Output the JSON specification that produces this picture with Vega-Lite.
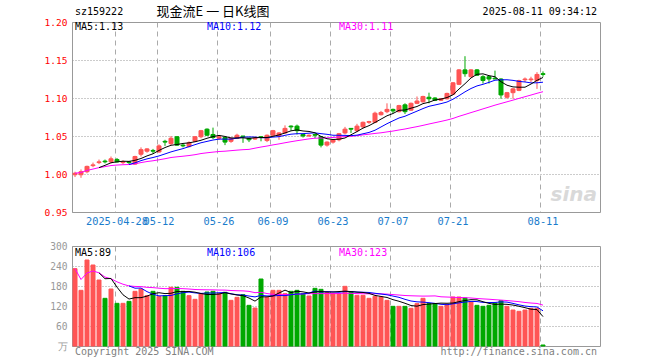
{
  "$schema": "https://vega.github.io/schema/vega-lite/v6.json",
  "background": "white",
  "padding": {"left": 43, "top": 5, "right": 62, "bottom": 0},
  "spacing": 13,
  "datasets": {
    "k": [
      {"d":"2025-04-17","o":0.999,"h":1.003,"l":0.996,"c":1.001,"v":232,"m30":1.001,"vm30":232},
      {"d":"2025-04-18","o":0.999,"h":1.006,"l":0.995,"c":1.003,"v":167,"m30":1.002,"vm30":199.5},
      {"d":"2025-04-21","o":1.003,"h":1.011,"l":1.001,"c":1.010,"v":258,"m30":1.0047,"vm30":219},
      {"d":"2025-04-22","o":1.011,"h":1.015,"l":1.009,"c":1.012,"v":243,"m30":1.0065,"vm30":225},
      {"d":"2025-04-23","o":1.015,"h":1.019,"l":1.013,"c":1.016,"v":198,"m5":1.0084,"m30":1.0084,"vm5":219.6,"vm30":219.6},
      {"d":"2025-04-24","o":1.017,"h":1.019,"l":1.014,"c":1.016,"v":143,"m5":1.0114,"m30":1.0097,"vm5":201.8,"vm30":206.8},
      {"d":"2025-04-25","o":1.016,"h":1.023,"l":1.014,"c":1.020,"v":171,"m5":1.0148,"m30":1.0111,"vm5":202.6,"vm30":201.7},
      {"d":"2025-04-28","o":1.019,"h":1.021,"l":1.015,"c":1.016,"v":128,"m5":1.016,"m30":1.0118,"vm5":176.6,"vm30":192.5},
      {"d":"2025-04-29","o":1.015,"h":1.018,"l":1.013,"c":1.016,"v":128,"m5":1.0168,"m30":1.0122,"vm5":153.6,"vm30":185.3},
      {"d":"2025-04-30","o":1.016,"h":1.017,"l":1.013,"c":1.015,"v":134,"m5":1.0166,"m10":1.0125,"m30":1.0125,"vm5":140.8,"vm10":180.2,"vm30":180.2},
      {"d":"2025-05-06","o":1.013,"h":1.024,"l":1.012,"c":1.023,"v":164,"m5":1.018,"m10":1.0147,"m30":1.0135,"vm5":145,"vm10":173.4,"vm30":178.7},
      {"d":"2025-05-07","o":1.026,"h":1.035,"l":1.023,"c":1.032,"v":171,"m5":1.0204,"m10":1.0176,"m30":1.015,"vm5":145,"vm10":173.8,"vm30":178.1},
      {"d":"2025-05-08","o":1.030,"h":1.034,"l":1.028,"c":1.033,"v":151,"m5":1.0238,"m10":1.0199,"m30":1.0164,"vm5":149.6,"vm10":163.1,"vm30":176},
      {"d":"2025-05-09","o":1.031,"h":1.033,"l":1.027,"c":1.030,"v":164,"m5":1.0266,"m10":1.0217,"m30":1.0174,"vm5":156.8,"vm10":155.2,"vm30":175.1},
      {"d":"2025-05-12","o":1.029,"h":1.039,"l":1.028,"c":1.037,"v":149,"m5":1.031,"m10":1.0238,"m30":1.0187,"vm5":159.8,"vm10":150.3,"vm30":173.4},
      {"d":"2025-05-13","o":1.043,"h":1.045,"l":1.037,"c":1.042,"v":151,"m5":1.0348,"m10":1.0264,"m30":1.0201,"vm5":157.2,"vm10":151.1,"vm30":172},
      {"d":"2025-05-14","o":1.040,"h":1.050,"l":1.038,"c":1.047,"v":176,"m5":1.0378,"m10":1.0291,"m30":1.0217,"vm5":158.2,"vm10":151.6,"vm30":172.2},
      {"d":"2025-05-15","o":1.049,"h":1.050,"l":1.037,"c":1.038,"v":176,"m5":1.0388,"m10":1.0313,"m30":1.0226,"vm5":163.2,"vm10":156.4,"vm30":172.4},
      {"d":"2025-05-16","o":1.038,"h":1.040,"l":1.035,"c":1.037,"v":164,"m5":1.0402,"m10":1.0334,"m30":1.0234,"vm5":163.2,"vm10":160,"vm30":172},
      {"d":"2025-05-19","o":1.036,"h":1.043,"l":1.035,"c":1.041,"v":151,"m5":1.041,"m10":1.036,"m30":1.0243,"vm5":163.6,"vm10":161.7,"vm30":171},
      {"d":"2025-05-20","o":1.043,"h":1.050,"l":1.042,"c":1.049,"v":140,"m5":1.0424,"m10":1.0386,"m30":1.0254,"vm5":161.4,"vm10":159.3,"vm30":169.5},
      {"d":"2025-05-21","o":1.049,"h":1.058,"l":1.047,"c":1.057,"v":156,"m5":1.0444,"m10":1.0411,"m30":1.0269,"vm5":157.4,"vm10":157.8,"vm30":168.9},
      {"d":"2025-05-22","o":1.059,"h":1.060,"l":1.050,"c":1.051,"v":162,"m5":1.047,"m10":1.0429,"m30":1.0279,"vm5":154.6,"vm10":158.9,"vm30":168.6},
      {"d":"2025-05-23","o":1.052,"h":1.061,"l":1.046,"c":1.048,"v":164,"m5":1.0492,"m10":1.0447,"m30":1.0288,"vm5":154.6,"vm10":158.9,"vm30":168.4},
      {"d":"2025-05-26","o":1.047,"h":1.051,"l":1.045,"c":1.049,"v":157,"m5":1.0508,"m10":1.0459,"m30":1.0296,"vm5":155.8,"vm10":159.7,"vm30":167.9},
      {"d":"2025-05-27","o":1.048,"h":1.049,"l":1.038,"c":1.042,"v":161,"m5":1.0494,"m10":1.0459,"m30":1.03,"vm5":160,"vm10":160.7,"vm30":167.7},
      {"d":"2025-05-28","o":1.043,"h":1.048,"l":1.041,"c":1.047,"v":137,"m5":1.0474,"m10":1.0459,"m30":1.0307,"vm5":156.2,"vm10":156.8,"vm30":166.5},
      {"d":"2025-05-29","o":1.047,"h":1.053,"l":1.046,"c":1.051,"v":146,"m5":1.0474,"m10":1.0472,"m30":1.0314,"vm5":153,"vm10":153.8,"vm30":165.8},
      {"d":"2025-05-30","o":1.050,"h":1.050,"l":1.041,"c":1.049,"v":154,"m5":1.0476,"m10":1.0484,"m30":1.032,"vm5":151,"vm10":152.8,"vm30":165.4},
      {"d":"2025-06-03","o":1.047,"h":1.048,"l":1.042,"c":1.045,"v":122,"m5":1.0468,"m10":1.0488,"m30":1.0324,"vm5":144,"vm10":149.9,"vm30":163.9},
      {"d":"2025-06-04","o":1.046,"h":1.049,"l":1.045,"c":1.047,"v":114,"m5":1.0478,"m10":1.0486,"m30":1.034,"vm5":134.6,"vm10":147.3,"vm30":160},
      {"d":"2025-06-05","o":1.049,"h":1.050,"l":1.043,"c":1.048,"v":201,"m5":1.048,"m10":1.0477,"m30":1.0355,"vm5":147.4,"vm10":151.8,"vm30":161.1},
      {"d":"2025-06-06","o":1.044,"h":1.052,"l":1.042,"c":1.051,"v":146,"m5":1.048,"m10":1.0477,"m30":1.0368,"vm5":147.4,"vm10":150.2,"vm30":157.4},
      {"d":"2025-06-09","o":1.051,"h":1.058,"l":1.050,"c":1.057,"v":167,"m5":1.0496,"m10":1.0486,"m30":1.0383,"vm5":150,"vm10":150.5,"vm30":154.9},
      {"d":"2025-06-10","o":1.050,"h":1.055,"l":1.045,"c":1.054,"v":167,"m5":1.0514,"m10":1.0491,"m30":1.0396,"vm5":159,"vm10":151.5,"vm30":153.8},
      {"d":"2025-06-11","o":1.054,"h":1.064,"l":1.053,"c":1.060,"v":157,"m5":1.054,"m10":1.0509,"m30":1.0411,"vm5":167.6,"vm10":151.1,"vm30":154.3},
      {"d":"2025-06-12","o":1.063,"h":1.064,"l":1.057,"c":1.062,"v":164,"m5":1.0568,"m10":1.0524,"m30":1.0425,"vm5":160.2,"vm10":153.8,"vm30":154.1},
      {"d":"2025-06-13","o":1.063,"h":1.065,"l":1.052,"c":1.057,"v":167,"m5":1.058,"m10":1.053,"m30":1.0438,"vm5":164.4,"vm10":155.9,"vm30":155.4},
      {"d":"2025-06-16","o":1.052,"h":1.053,"l":1.048,"c":1.050,"v":157,"m5":1.0566,"m10":1.0531,"m30":1.045,"vm5":162.4,"vm10":156.2,"vm30":156.3},
      {"d":"2025-06-17","o":1.050,"h":1.052,"l":1.049,"c":1.051,"v":150,"m5":1.056,"m10":1.0537,"m30":1.0462,"vm5":159,"vm10":159,"vm30":156.9},
      {"d":"2025-06-18","o":1.052,"h":1.053,"l":1.047,"c":1.051,"v":173,"m5":1.0542,"m10":1.0541,"m30":1.0471,"vm5":162.2,"vm10":164.9,"vm30":157.2},
      {"d":"2025-06-19","o":1.049,"h":1.050,"l":1.035,"c":1.038,"v":170,"m5":1.0494,"m10":1.0531,"m30":1.0473,"vm5":163.4,"vm10":161.8,"vm30":157.1},
      {"d":"2025-06-20","o":1.038,"h":1.043,"l":1.036,"c":1.042,"v":160,"m5":1.0464,"m10":1.0522,"m30":1.0476,"vm5":162,"vm10":163.2,"vm30":157.4},
      {"d":"2025-06-23","o":1.042,"h":1.046,"l":1.040,"c":1.045,"v":157,"m5":1.0454,"m10":1.051,"m30":1.0481,"vm5":162,"vm10":162.2,"vm30":157.2},
      {"d":"2025-06-24","o":1.045,"h":1.054,"l":1.043,"c":1.053,"v":157,"m5":1.0458,"m10":1.0509,"m30":1.0486,"vm5":163.4,"vm10":161.2,"vm30":157.5},
      {"d":"2025-06-25","o":1.054,"h":1.062,"l":1.052,"c":1.059,"v":179,"m5":1.0474,"m10":1.0508,"m30":1.0492,"vm5":164.6,"vm10":163.4,"vm30":158.4},
      {"d":"2025-06-26","o":1.060,"h":1.060,"l":1.054,"c":1.059,"v":163,"m5":1.0516,"m10":1.0505,"m30":1.0496,"vm5":163.2,"vm10":163.3,"vm30":158},
      {"d":"2025-06-27","o":1.057,"h":1.066,"l":1.055,"c":1.063,"v":152,"m5":1.0558,"m10":1.0511,"m30":1.0504,"vm5":161.6,"vm10":161.8,"vm30":157.2},
      {"d":"2025-06-30","o":1.062,"h":1.069,"l":1.060,"c":1.068,"v":152,"m5":1.0604,"m10":1.0529,"m30":1.0515,"vm5":160.6,"vm10":161.3,"vm30":156.8},
      {"d":"2025-07-01","o":1.068,"h":1.070,"l":1.066,"c":1.069,"v":143,"m5":1.0636,"m10":1.0547,"m30":1.0524,"vm5":157.8,"vm10":160.6,"vm30":156.5},
      {"d":"2025-07-02","o":1.068,"h":1.082,"l":1.067,"c":1.080,"v":149,"m5":1.0678,"m10":1.0576,"m30":1.0534,"vm5":151.8,"vm10":158.2,"vm30":156.8},
      {"d":"2025-07-03","o":1.078,"h":1.083,"l":1.077,"c":1.081,"v":147,"m5":1.0722,"m10":1.0619,"m30":1.0542,"vm5":148.6,"vm10":155.9,"vm30":156.5},
      {"d":"2025-07-04","o":1.082,"h":1.093,"l":1.080,"c":1.085,"v":137,"m5":1.0766,"m10":1.0662,"m30":1.0554,"vm5":145.6,"vm10":153.6,"vm30":155.7},
      {"d":"2025-07-07","o":1.085,"h":1.086,"l":1.080,"c":1.083,"v":119,"m5":1.0796,"m10":1.07,"m30":1.0565,"vm5":139,"vm10":149.8,"vm30":154.2},
      {"d":"2025-07-08","o":1.082,"h":1.091,"l":1.081,"c":1.090,"v":119,"m5":1.0838,"m10":1.0737,"m30":1.0579,"vm5":134.2,"vm10":146,"vm30":152.9},
      {"d":"2025-07-09","o":1.091,"h":1.093,"l":1.079,"c":1.082,"v":119,"m5":1.0842,"m10":1.076,"m30":1.0592,"vm5":128.2,"vm10":140,"vm30":151.5},
      {"d":"2025-07-10","o":1.084,"h":1.094,"l":1.083,"c":1.093,"v":113,"m5":1.0866,"m10":1.0794,"m30":1.0608,"vm5":121.4,"vm10":135,"vm30":150.7},
      {"d":"2025-07-11","o":1.093,"h":1.102,"l":1.092,"c":1.096,"v":127,"m5":1.0888,"m10":1.0827,"m30":1.0623,"vm5":119.4,"vm10":132.5,"vm30":150.1},
      {"d":"2025-07-14","o":1.095,"h":1.103,"l":1.094,"c":1.102,"v":143,"m5":1.0926,"m10":1.0861,"m30":1.064,"vm5":124.2,"vm10":131.6,"vm30":149.7},
      {"d":"2025-07-15","o":1.101,"h":1.107,"l":1.093,"c":1.099,"v":127,"m5":1.0944,"m10":1.0891,"m30":1.0658,"vm5":125.8,"vm10":130,"vm30":149.9},
      {"d":"2025-07-16","o":1.100,"h":1.101,"l":1.096,"c":1.097,"v":127,"m5":1.0974,"m10":1.0908,"m30":1.0675,"vm5":127.4,"vm10":127.8,"vm30":150.3},
      {"d":"2025-07-17","o":1.097,"h":1.100,"l":1.096,"c":1.099,"v":119,"m5":1.0986,"m10":1.0926,"m30":1.0692,"vm5":128.6,"vm10":125,"vm30":147.6},
      {"d":"2025-07-18","o":1.099,"h":1.107,"l":1.098,"c":1.106,"v":125,"m5":1.1006,"m10":1.0947,"m30":1.071,"vm5":128.2,"vm10":123.8,"vm30":146.9},
      {"d":"2025-07-21","o":1.105,"h":1.121,"l":1.104,"c":1.120,"v":147,"m5":1.1042,"m10":1.0984,"m30":1.0731,"vm5":129,"vm10":126.6,"vm30":146.2},
      {"d":"2025-07-22","o":1.118,"h":1.138,"l":1.117,"c":1.137,"v":147,"m5":1.1118,"m10":1.1031,"m30":1.0759,"vm5":133,"vm10":129.4,"vm30":145.5},
      {"d":"2025-07-23","o":1.137,"h":1.155,"l":1.128,"c":1.132,"v":144,"m5":1.1188,"m10":1.1081,"m30":1.0783,"vm5":136.4,"vm10":131.9,"vm30":145.1},
      {"d":"2025-07-24","o":1.128,"h":1.138,"l":1.127,"c":1.137,"v":132,"m5":1.1264,"m10":1.1125,"m30":1.0808,"vm5":139,"vm10":133.8,"vm30":144},
      {"d":"2025-07-25","o":1.137,"h":1.138,"l":1.129,"c":1.130,"v":122,"m5":1.1312,"m10":1.1159,"m30":1.0832,"vm5":138.4,"vm10":133.3,"vm30":142.5},
      {"d":"2025-07-28","o":1.128,"h":1.130,"l":1.119,"c":1.123,"v":119,"m5":1.1318,"m10":1.118,"m30":1.0857,"vm5":132.8,"vm10":130.9,"vm30":141.3},
      {"d":"2025-07-29","o":1.128,"h":1.129,"l":1.119,"c":1.125,"v":122,"m5":1.1294,"m10":1.1206,"m30":1.0881,"vm5":127.8,"vm10":130.4,"vm30":140.3},
      {"d":"2025-07-30","o":1.126,"h":1.136,"l":1.125,"c":1.125,"v":129,"m5":1.128,"m10":1.1234,"m30":1.0906,"vm5":124.8,"vm10":130.6,"vm30":138.9},
      {"d":"2025-07-31","o":1.125,"h":1.126,"l":1.099,"c":1.104,"v":136,"m5":1.1214,"m10":1.1239,"m30":1.0928,"vm5":125.6,"vm10":132.3,"vm30":137.7},
      {"d":"2025-08-01","o":1.101,"h":1.108,"l":1.099,"c":1.107,"v":119,"m5":1.1168,"m10":1.124,"m30":1.095,"vm5":125,"vm10":131.7,"vm30":136.4},
      {"d":"2025-08-04","o":1.107,"h":1.113,"l":1.099,"c":1.112,"v":108,"m5":1.1146,"m10":1.1232,"m30":1.0972,"vm5":122.8,"vm10":127.8,"vm30":134.7},
      {"d":"2025-08-05","o":1.110,"h":1.124,"l":1.109,"c":1.123,"v":104,"m5":1.1142,"m10":1.1218,"m30":1.0995,"vm5":119.2,"vm10":123.5,"vm30":133},
      {"d":"2025-08-06","o":1.124,"h":1.127,"l":1.121,"c":1.125,"v":108,"m5":1.1142,"m10":1.1211,"m30":1.1017,"vm5":115,"vm10":119.9,"vm30":130.6},
      {"d":"2025-08-07","o":1.124,"h":1.128,"l":1.121,"c":1.125,"v":113,"m5":1.1184,"m10":1.1199,"m30":1.1039,"vm5":110.4,"vm10":118,"vm30":128.9},
      {"d":"2025-08-08","o":1.123,"h":1.134,"l":1.112,"c":1.131,"v":113,"m5":1.1232,"m10":1.12,"m30":1.1062,"vm5":109.2,"vm10":117.1,"vm30":127.6},
      {"d":"2025-08-11","o":1.132,"h":1.135,"l":1.128,"c":1.131,"v":3,"m5":1.127,"m10":1.1208,"m30":1.1083,"vm5":88.2,"vm10":105.5,"vm30":122.7}
    ]
  },
  "data": {"name": "k"},
  "vconcat": [
    {
      "width": 528,
      "height": 190,
      "encoding": {
        "x": {
          "field": "d", "type": "ordinal", "title": null,
          "scale": {"domain": ["2025-04-17","2025-04-18","2025-04-21","2025-04-22","2025-04-23","2025-04-24","2025-04-25","2025-04-28","2025-04-29","2025-04-30","2025-05-06","2025-05-07","2025-05-08","2025-05-09","2025-05-12","2025-05-13","2025-05-14","2025-05-15","2025-05-16","2025-05-19","2025-05-20","2025-05-21","2025-05-22","2025-05-23","2025-05-26","2025-05-27","2025-05-28","2025-05-29","2025-05-30","2025-06-03","2025-06-04","2025-06-05","2025-06-06","2025-06-09","2025-06-10","2025-06-11","2025-06-12","2025-06-13","2025-06-16","2025-06-17","2025-06-18","2025-06-19","2025-06-20","2025-06-23","2025-06-24","2025-06-25","2025-06-26","2025-06-27","2025-06-30","2025-07-01","2025-07-02","2025-07-03","2025-07-04","2025-07-07","2025-07-08","2025-07-09","2025-07-10","2025-07-11","2025-07-14","2025-07-15","2025-07-16","2025-07-17","2025-07-18","2025-07-21","2025-07-22","2025-07-23","2025-07-24","2025-07-25","2025-07-28","2025-07-29","2025-07-30","2025-07-31","2025-08-01","2025-08-04","2025-08-05","2025-08-06","2025-08-07","2025-08-08","2025-08-11","2025-08-12","2025-08-13","2025-08-14","2025-08-15","2025-08-18","2025-08-19","2025-08-20","2025-08-21","2025-08-22"], "paddingInner": 0.3333, "paddingOuter": 0.1667},
          "axis": {"values": ["2025-04-28","2025-05-12","2025-05-26","2025-06-09","2025-06-23","2025-07-07","2025-07-21","2025-08-11"], "labelExpr": "datum.value == '2025-04-28' ? datum.value : substring(datum.value, 5)", "bandPosition": 0, "grid": true, "gridDash": [5, 4], "gridColor": "#aaaaaa", "labelColor": "#1a7ccc", "labelPadding": 4, "labelOverlap": false, "labelBound": false, "labelFontSize": 10.3, "labelAngle": 0}
        }
      },
      "layer": [
        {
          "mark": {"type": "rule", "strokeWidth": 1},
          "encoding": {
            "y": {"field": "l", "type": "quantitative", "title": null, "scale": {"domain": [0.95, 1.2], "nice": false, "zero": false},
              "axis": {"values": [0.95, 1.0, 1.05, 1.1, 1.15, 1.2], "tickCount": 20, "format": ".2f", "labelColor": "#ff0000", "labelOverlap": false, "grid": true, "gridDash": [1, 2], "gridColor": "#999999", "minExtent": 27, "maxExtent": 27, "labelPadding": 5, "labelFontSize": 9.5}},
            "y2": {"field": "h"},
            "color": {"condition": {"test": "datum.c < datum.o", "value": "#00a800"}, "value": "#ff5555"}
          }
        },
        {
          "mark": {"type": "bar", "strokeWidth": 1},
          "encoding": {
            "y": {"field": "o", "type": "quantitative", "title": null},
            "y2": {"field": "c"},
            "fill": {"condition": {"test": "datum.c < datum.o", "value": "#00a800"}, "value": "#ff5555"},
            "stroke": {"condition": {"test": "datum.c < datum.o", "value": "#00a800"}, "value": "#ff5555"}
          }
        },
        {"mark": {"type": "line", "color": "#ff00ff", "strokeWidth": 1}, "encoding": {"y": {"field": "m30", "type": "quantitative", "title": null}}},
        {"mark": {"type": "line", "color": "#0000ff", "strokeWidth": 1}, "encoding": {"y": {"field": "m10", "type": "quantitative", "title": null}}},
        {"mark": {"type": "line", "color": "#000000", "strokeWidth": 1}, "encoding": {"y": {"field": "m5", "type": "quantitative", "title": null}}},
        {"data": {"values": [{}]}, "mark": {"type": "text", "text": "MA5:1.13", "align": "left", "baseline": "middle", "color": "#000000", "fontSize": 10},
          "encoding": {"x": {"datum": "2025-04-17", "type": "ordinal"}, "y": {"datum": 1.193, "type": "quantitative"}}},
        {"data": {"values": [{}]}, "mark": {"type": "text", "text": "MA10:1.12", "align": "left", "baseline": "middle", "color": "#0000ff", "fontSize": 10},
          "encoding": {"x": {"datum": "2025-05-22", "type": "ordinal"}, "y": {"datum": 1.193, "type": "quantitative"}}},
        {"data": {"values": [{}]}, "mark": {"type": "text", "text": "MA30:1.11", "align": "left", "baseline": "middle", "color": "#ff00ff", "fontSize": 10},
          "encoding": {"x": {"datum": "2025-06-24", "type": "ordinal"}, "y": {"datum": 1.193, "type": "quantitative"}}},
        {"data": {"values": [{}]}, "mark": {"type": "text", "text": "sz159222", "align": "left", "baseline": "middle", "color": "#000000", "fontSize": 10},
          "encoding": {"x": {"datum": "2025-04-17", "type": "ordinal"}, "y": {"datum": 1.213, "type": "quantitative"}}},
        {"data": {"values": [{}]}, "mark": {"type": "text", "text": "现金流E 一 日K线图", "align": "center", "baseline": "middle", "color": "#000000", "font": "Noto Sans CJK SC", "fontSize": 13},
          "encoding": {"x": {"datum": "2025-05-23", "type": "ordinal"}, "y": {"datum": 1.213, "type": "quantitative"}}},
        {"data": {"values": [{}]}, "mark": {"type": "text", "text": "2025-08-11 09:34:12", "align": "right", "baseline": "middle", "color": "#000000", "fontSize": 10},
          "encoding": {"x": {"datum": "2025-08-22", "type": "ordinal"}, "y": {"datum": 1.213, "type": "quantitative"}}},
        {"data": {"values": [{}]}, "mark": {"type": "text", "text": "sina", "align": "right", "baseline": "middle", "color": "#d9d9d9", "font": "DejaVu Sans", "fontSize": 20, "fontWeight": "bold", "fontStyle": "italic"},
          "encoding": {"x": {"datum": "2025-08-22", "type": "ordinal"}, "y": {"datum": 0.972, "type": "quantitative"}}}
      ]
    },
    {
      "width": 528,
      "height": 100,
      "encoding": {
        "x": {
          "field": "d", "type": "ordinal", "title": null,
          "scale": {"domain": ["2025-04-17","2025-04-18","2025-04-21","2025-04-22","2025-04-23","2025-04-24","2025-04-25","2025-04-28","2025-04-29","2025-04-30","2025-05-06","2025-05-07","2025-05-08","2025-05-09","2025-05-12","2025-05-13","2025-05-14","2025-05-15","2025-05-16","2025-05-19","2025-05-20","2025-05-21","2025-05-22","2025-05-23","2025-05-26","2025-05-27","2025-05-28","2025-05-29","2025-05-30","2025-06-03","2025-06-04","2025-06-05","2025-06-06","2025-06-09","2025-06-10","2025-06-11","2025-06-12","2025-06-13","2025-06-16","2025-06-17","2025-06-18","2025-06-19","2025-06-20","2025-06-23","2025-06-24","2025-06-25","2025-06-26","2025-06-27","2025-06-30","2025-07-01","2025-07-02","2025-07-03","2025-07-04","2025-07-07","2025-07-08","2025-07-09","2025-07-10","2025-07-11","2025-07-14","2025-07-15","2025-07-16","2025-07-17","2025-07-18","2025-07-21","2025-07-22","2025-07-23","2025-07-24","2025-07-25","2025-07-28","2025-07-29","2025-07-30","2025-07-31","2025-08-01","2025-08-04","2025-08-05","2025-08-06","2025-08-07","2025-08-08","2025-08-11","2025-08-12","2025-08-13","2025-08-14","2025-08-15","2025-08-18","2025-08-19","2025-08-20","2025-08-21","2025-08-22"], "paddingInner": 0.3333, "paddingOuter": 0.1667},
          "axis": {"values": ["2025-04-28","2025-05-12","2025-05-26","2025-06-09","2025-06-23","2025-07-07","2025-07-21","2025-08-11"], "labels": false, "bandPosition": 0, "grid": true, "gridDash": [5, 4], "gridColor": "#aaaaaa"}
        }
      },
      "layer": [
        {
          "mark": {"type": "bar", "strokeWidth": 1},
          "encoding": {
            "y": {"field": "v", "type": "quantitative", "title": null, "scale": {"domain": [0, 300], "nice": false},
              "axis": {"values": [0, 60, 120, 180, 240, 300], "tickCount": 20, "labelExpr": "datum.value == 0 ? '万' : datum.label", "labelColor": "#999999", "labelOverlap": false, "grid": true, "gridDash": [1, 2], "gridColor": "#999999", "minExtent": 27, "maxExtent": 27, "labelPadding": 5, "labelFontSize": 9.6}},
            "fill": {"condition": {"test": "datum.c < datum.o", "value": "#00a800"}, "value": "#ff5555"},
            "stroke": {"condition": {"test": "datum.c < datum.o", "value": "#00a800"}, "value": "#ff5555"}
          }
        },
        {"mark": {"type": "line", "color": "#ff00ff", "strokeWidth": 1}, "encoding": {"y": {"field": "vm30", "type": "quantitative", "title": null}}},
        {"mark": {"type": "line", "color": "#0000ff", "strokeWidth": 1}, "encoding": {"y": {"field": "vm10", "type": "quantitative", "title": null}}},
        {"mark": {"type": "line", "color": "#000000", "strokeWidth": 1}, "encoding": {"y": {"field": "vm5", "type": "quantitative", "title": null}}},
        {"data": {"values": [{}]}, "mark": {"type": "text", "text": "MA5:89", "align": "left", "baseline": "middle", "color": "#000000", "fontSize": 10},
          "encoding": {"x": {"datum": "2025-04-17", "type": "ordinal"}, "y": {"datum": 279, "type": "quantitative"}}},
        {"data": {"values": [{}]}, "mark": {"type": "text", "text": "MA10:106", "align": "left", "baseline": "middle", "color": "#0000ff", "fontSize": 10},
          "encoding": {"x": {"datum": "2025-05-22", "type": "ordinal"}, "y": {"datum": 279, "type": "quantitative"}}},
        {"data": {"values": [{}]}, "mark": {"type": "text", "text": "MA30:123", "align": "left", "baseline": "middle", "color": "#ff00ff", "fontSize": 10},
          "encoding": {"x": {"datum": "2025-06-24", "type": "ordinal"}, "y": {"datum": 279, "type": "quantitative"}}},
        {"data": {"values": [{}]}, "mark": {"type": "text", "text": "Copyright 2025 SINA.COM", "align": "left", "baseline": "middle", "color": "#808080", "fontSize": 10},
          "encoding": {"x": {"datum": "2025-04-17", "type": "ordinal"}, "y": {"datum": -18, "type": "quantitative"}}},
        {"data": {"values": [{}]}, "mark": {"type": "text", "text": "http://finance.sina.com.cn", "align": "right", "baseline": "middle", "color": "#808080", "fontSize": 10},
          "encoding": {"x": {"datum": "2025-08-22", "type": "ordinal"}, "y": {"datum": -18, "type": "quantitative"}}}
      ]
    }
  ],
  "config": {
    "view": {"stroke": "#999999", "strokeWidth": 1},
    "font": "DejaVu Sans Mono",
    "axis": {"labelFont": "DejaVu Sans Mono", "domain": false, "ticks": false, "gridWidth": 1, "labelOverlap": false},
    "text": {"font": "DejaVu Sans Mono"}
  }
}
